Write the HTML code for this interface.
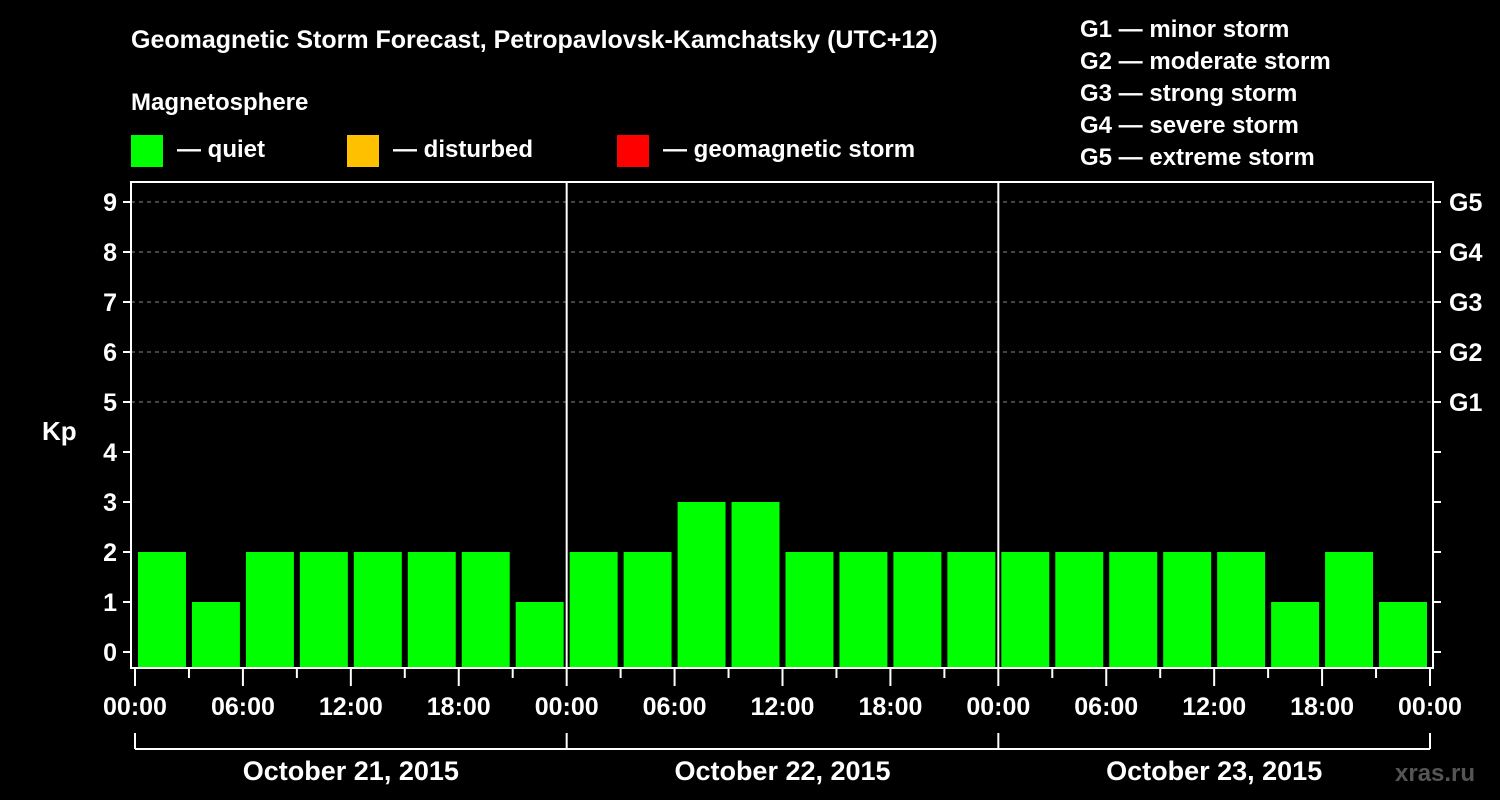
<!DOCTYPE html>
<html><head><meta charset="utf-8"><style>
html,body{margin:0;padding:0;background:#000;}
svg{display:block;font-family:"Liberation Sans",Arial,sans-serif;font-weight:bold;}
</style></head><body>
<svg id="chart" width="1500" height="800" xmlns="http://www.w3.org/2000/svg">
<rect width="1500" height="800" fill="#000"/>
<text x="131" y="48" fill="#fff" font-size="25">Geomagnetic Storm Forecast, Petropavlovsk-Kamchatsky (UTC+12)</text>
<text x="131" y="110" fill="#fff" font-size="24">Magnetosphere</text>
<g>
<rect x="131" y="135" width="32" height="32" fill="#00ff00"/>
<text x="177" y="157" fill="#fff" font-size="24">— quiet</text>
<rect x="347" y="135" width="32" height="32" fill="#ffc000"/>
<text x="393" y="157" fill="#fff" font-size="24">— disturbed</text>
<rect x="617" y="135" width="32" height="32" fill="#ff0000"/>
<text x="663" y="157" fill="#fff" font-size="24">— geomagnetic storm</text>
</g>
<g fill="#fff" font-size="24">
<text x="1080" y="37">G1 — minor storm</text>
<text x="1080" y="69">G2 — moderate storm</text>
<text x="1080" y="101">G3 — strong storm</text>
<text x="1080" y="133">G4 — severe storm</text>
<text x="1080" y="165">G5 — extreme storm</text>
</g>
<text x="42" y="440" fill="#fff" font-size="26">Kp</text>
<text x="1395" y="781" fill="#555" font-size="24">xras.ru</text>
<g id="plot"></g>
</svg>
<script>
const values = [2,1,2,2,2,2,2,1, 2,2,3,3,2,2,2,2, 2,2,2,2,2,1,2,1];
const yTicks = [0,1,2,3,4,5,6,7,8,9];
const gLabels = ['','','','','','G1','G2','G3','G4','G5'];
const xTickLabels = ['00:00','06:00','12:00','18:00','00:00','06:00','12:00','18:00','00:00','06:00','12:00','18:00','00:00'];
const days = ['October 21, 2015','October 22, 2015','October 23, 2015'];

const NS='http://www.w3.org/2000/svg';
const g=document.getElementById('plot');
const X0=135, X1=1430, L=131, R=1433, T=182, B=668;
const nSlots=values.length;
function xs(slot){return X0+(X1-X0)*slot/nSlots;}
function ys(v){return 652-50*v;}
function mk(tag,attrs,parent){const e=document.createElementNS(NS,tag);for(const k in attrs)e.setAttribute(k,attrs[k]);(parent||g).appendChild(e);return e;}

yTicks.forEach(v=>{
  if(v>=5){const l=mk('line',{x1:L,x2:R,y1:ys(v),y2:ys(v),stroke:'#888','stroke-width':1,'stroke-dasharray':'4,4'});
  
  }
  const t1=mk('line',{x1:L-8,x2:L,y1:ys(v),y2:ys(v),stroke:'#fff','stroke-width':2});
  
  
  const t2=mk('line',{x1:R,x2:R+8,y1:ys(v),y2:ys(v),stroke:'#fff','stroke-width':2});
  
  
  const tx=mk('text',{x:L-14,y:ys(v)+9,fill:'#fff','font-size':25,'text-anchor':'end'});
  tx.textContent=v;
  
  
  if(gLabels[v]){const gt=mk('text',{x:R+16,y:ys(v)+9,fill:'#fff','font-size':25});
  gt.textContent=gLabels[v];
  
  }
});

values.forEach((v,i)=>{
  const x=xs(i)+3, w=(X1-X0)/nSlots-6;
  const b=mk('rect',{x:x,y:ys(v),width:w,height:B-ys(v),fill:v>=5?'#ff0000':(v>=4?'#ffc000':'#00ff00')});
  
  
});

const fr=mk('rect',{x:L,y:T,width:R-L,height:B-T,fill:'none',stroke:'#fff','stroke-width':2});


[1,2].forEach(d=>{const l=mk('line',{x1:xs(d*8),x2:xs(d*8),y1:T,y2:B,stroke:'#fff','stroke-width':2});

});

for(let s=0;s<=nSlots;s++){
  const major=s%2===0;
  const t=mk('line',{x1:xs(s),x2:xs(s),y1:B,y2:major?B+18:B+10,stroke:'#fff','stroke-width':2});
  
  
}
xTickLabels.forEach((lab,i)=>{
  const t=mk('text',{x:xs(i*2),y:715,fill:'#fff','font-size':25,'text-anchor':'middle'});
  t.textContent=lab;
  
  
});
const bl=mk('line',{x1:X0,x2:X1,y1:749,y2:749,stroke:'#fff','stroke-width':2});


for(let d=0;d<=days.length;d++){
  const l=mk('line',{x1:xs(d*8),x2:xs(d*8),y1:733,y2:749,stroke:'#fff','stroke-width':2});
  
  
}
days.forEach((dl,d)=>{
  const t=mk('text',{x:(xs(d*8)+xs(d*8+8))/2,y:780,fill:'#fff','font-size':27,'text-anchor':'middle'});
  t.textContent=dl;
  
  
});
</script>
</body></html>
